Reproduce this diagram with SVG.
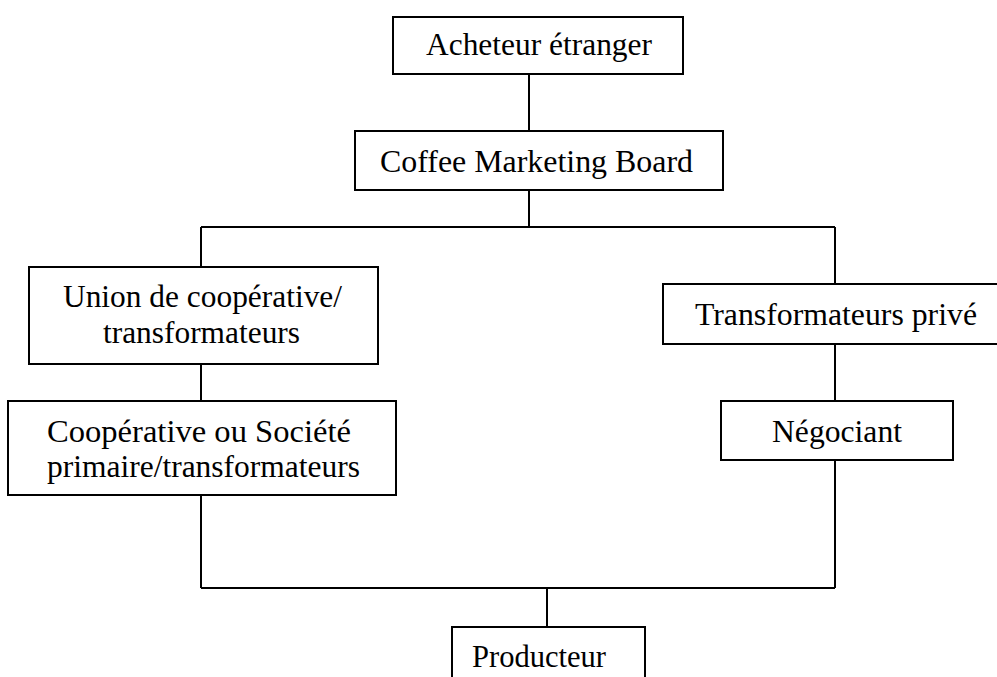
<svg xmlns="http://www.w3.org/2000/svg" width="997" height="677" viewBox="0 0 997 677">
<style>
.box{fill:#fff;stroke:#000;stroke-width:2}
.ln{fill:none;stroke:#000;stroke-width:2}
text{font-family:"Liberation Serif","Times New Roman",serif;font-size:31px;fill:#000}
</style>
<rect width="997" height="677" fill="#fff"/>
<g id="connectors">
<path class="ln" d="M529,74V131M529,190V227M201,227H835M201,227V267M835,227V284M201,364V401M835,344V401M201,495V588M835,460V588M201,588H835M547,588V627"/>
</g>
<g id="n1"><rect class="box" x="393" y="17" width="290" height="57"/><text x="426" y="55" textLength="226" lengthAdjust="spacingAndGlyphs">Acheteur étranger</text></g>
<g id="n2"><rect class="box" x="355" y="131" width="368" height="59"/><text x="380" y="172" textLength="313" lengthAdjust="spacingAndGlyphs">Coffee Marketing  Board</text></g>
<g id="n3"><rect class="box" x="29" y="267" width="349" height="97"/><text x="63" y="307" textLength="279" lengthAdjust="spacingAndGlyphs">Union de coopérative/</text><text x="103" y="343" textLength="197" lengthAdjust="spacingAndGlyphs">transformateurs</text></g>
<g id="n4"><rect class="box" x="8" y="401" width="388" height="94"/><text x="47" y="442" textLength="304" lengthAdjust="spacingAndGlyphs">Coopérative ou Société</text><text x="47" y="477" textLength="313" lengthAdjust="spacingAndGlyphs">primaire/transformateurs</text></g>
<g id="n5"><rect class="box" x="663" y="284" width="340" height="60"/><text x="695" y="325" textLength="282" lengthAdjust="spacingAndGlyphs">Transformateurs privé</text></g>
<g id="n6"><rect class="box" x="721" y="401" width="232" height="59"/><text x="772" y="442" textLength="130" lengthAdjust="spacingAndGlyphs">Négociant</text></g>
<g id="n7"><rect class="box" x="452" y="627" width="193" height="60"/><text x="472" y="667" textLength="134" lengthAdjust="spacingAndGlyphs">Producteur</text></g>
</svg>
